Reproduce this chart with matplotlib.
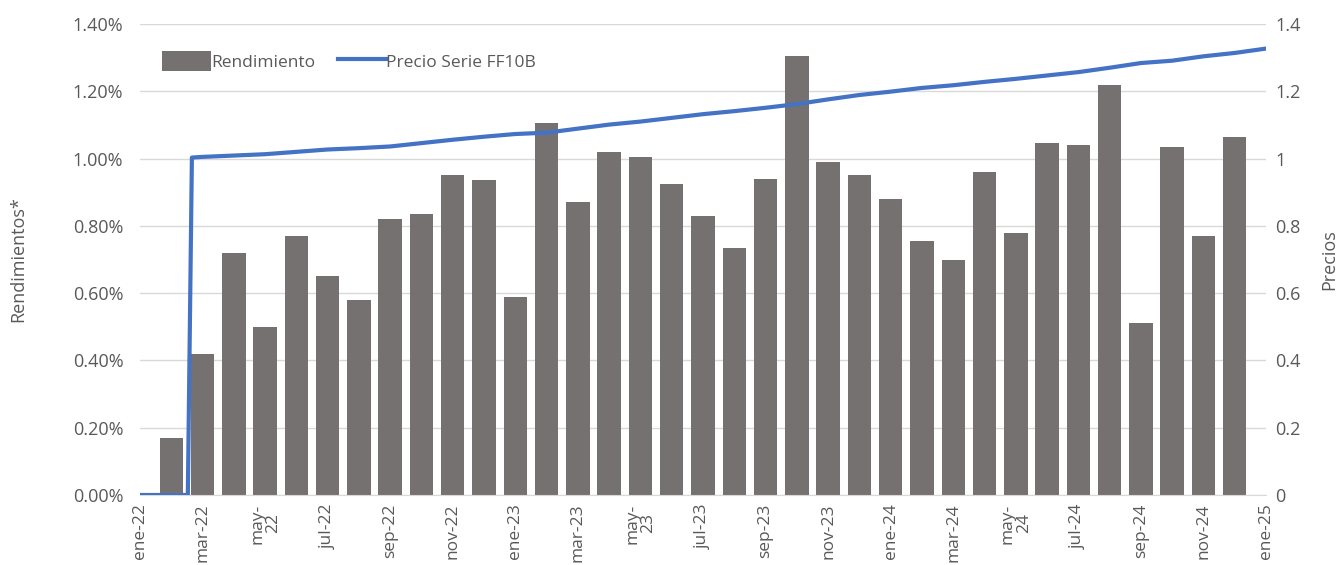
import matplotlib
matplotlib.use("Agg")
import matplotlib.pyplot as plt
from matplotlib.patches import Patch
from matplotlib.lines import Line2D

# ---------- Data ----------

# monthly returns (%), feb-22 .. dic-24
bar_months = list(range(1, 36))
rendimiento = [0.17, 0.42, 0.72, 0.50, 0.77, 0.65, 0.58, 0.82, 0.835, 0.95,
               0.935, 0.59, 1.105, 0.87, 1.02, 1.005, 0.925, 0.83, 0.735, 0.94,
               1.305, 0.99, 0.95, 0.88, 0.755, 0.70, 0.96, 0.78, 1.045, 1.04,
               1.22, 0.51, 1.035, 0.77, 1.065]

# price series FF10B (month index, value)
precio_x = [0, 1.53, 1.66, 2, 3, 4, 5, 6, 7, 8, 9, 10, 11, 12, 13, 14, 15, 16,
            17, 18, 19, 20, 21, 22, 23, 24, 25, 26, 27, 28, 29, 30, 31, 32,
            33, 34, 35, 36]
precio = [0, 0, 1.003, 1.005, 1.009, 1.013, 1.020, 1.027, 1.031, 1.036, 1.046,
          1.056, 1.065, 1.073, 1.077, 1.089, 1.101, 1.110, 1.121, 1.132, 1.141,
          1.151, 1.162, 1.176, 1.189, 1.199, 1.210, 1.218, 1.228, 1.237, 1.247,
          1.257, 1.270, 1.284, 1.291, 1.304, 1.314, 1.327]

tick_pos = list(range(0, 37, 2))
tick_labels = ["ene-22", "mar-22", "may-\n22", "jul-22", "sep-22", "nov-22",
               "ene-23", "mar-23", "may-\n23", "jul-23", "sep-23", "nov-23",
               "ene-24", "mar-24", "may-\n24", "jul-24", "sep-24", "nov-24",
               "ene-25"]

# ---------- Plot ----------

plt.rcParams["font.family"] = ["Open Sans", "DejaVu Sans"]
txt = "#595959"
bar_color = "#767171"
line_color = "#4472C4"

fig = plt.figure(figsize=(13.42, 5.65), dpi=100)
ax = fig.add_axes([0.1043, 0.1239, 0.8391, 0.8336])
ax2 = ax.twinx()

ax.bar(bar_months, rendimiento, width=0.75, color=bar_color, zorder=2)
ax.set_ylim(0, 1.4)
ax.set_xlim(0, 36)
ax.set_yticks([i * 0.2 for i in range(8)])
ax.set_yticklabels([f"{i * 0.2:.2f}%" for i in range(8)])
ax.grid(axis="y", color="#d9d9d9", linewidth=1, zorder=0)
ax.set_axisbelow(True)

ax2.plot(precio_x, precio, color=line_color, linewidth=3, zorder=3)
ax2.set_ylim(0, 1.4)
ax2.set_yticks([i * 0.2 for i in range(8)])
ax2.set_yticklabels(["0", "0.2", "0.4", "0.6", "0.8", "1", "1.2", "1.4"])

ax.set_xticks(tick_pos)
ax.set_xticklabels(tick_labels, rotation=90, ha="center", va="top",
                   multialignment="center", linespacing=1.0)

for a in (ax, ax2):
    for s in a.spines.values():
        s.set_visible(False)
    a.tick_params(length=0, labelsize=13, colors=txt)
ax.tick_params(axis="x", labelsize=12.5)
ax.spines["bottom"].set_visible(True)
ax.spines["bottom"].set_color("#d9d9d9")
ax.tick_params(axis="y", pad=12)
ax2.tick_params(axis="y", pad=6.5)
ax.tick_params(axis="x", pad=6)

ax.set_ylabel("Rendimientos*", fontsize=13, color=txt, labelpad=33)
ax2.set_ylabel("Precios", fontsize=13, color=txt, labelpad=14)

handles = [Patch(facecolor=bar_color, edgecolor="none"),
           Line2D([0], [0], color=line_color, linewidth=3)]
ax2.legend(handles, ["Rendimiento", "Precio Serie FF10B"], loc="upper left",
           bbox_to_anchor=(0.006, 0.975), ncol=2, frameon=False,
           fontsize=12.5, labelcolor=txt, handlelength=2.8, handleheight=1.4,
           handletextpad=0.0, columnspacing=1.3)

fig.savefig("out.png", dpi=100)
